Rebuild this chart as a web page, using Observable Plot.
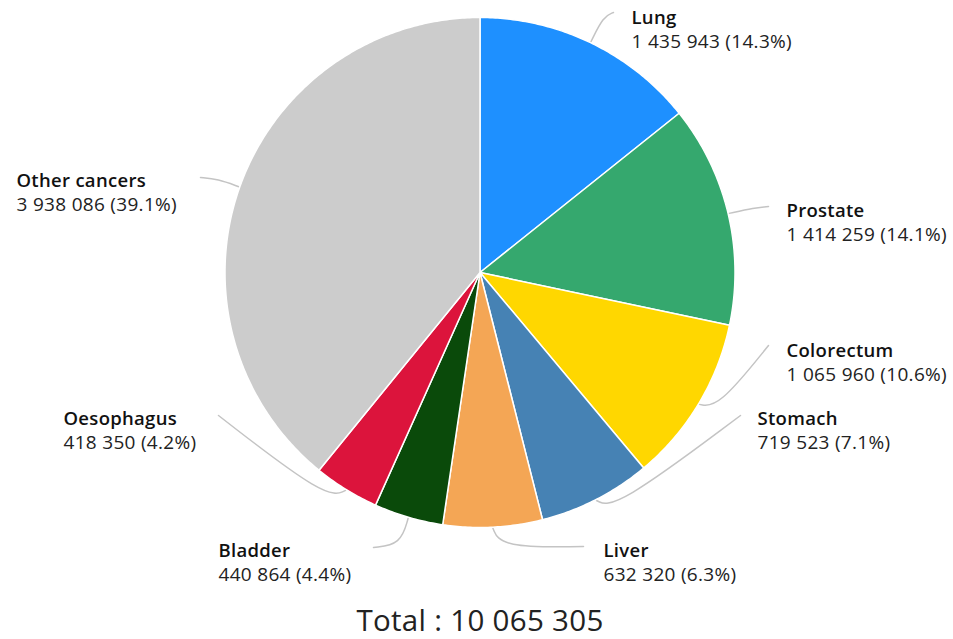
<!DOCTYPE html>
<html>
<head>
<meta charset="utf-8">
<script src="https://cdn.jsdelivr.net/npm/d3@7"></script>
<script src="https://cdn.jsdelivr.net/npm/@observablehq/plot@0.6"></script>
<style>
  html, body { margin: 0; padding: 0; background: #fff; }
  #chart svg { display: block; }
  #chart svg text { letter-spacing: 0.3px; }
</style>
</head>
<body>
<div id="chart"></div>
<script>
// ---- data ----
const names = ["Lung", "Prostate", "Colorectum", "Stomach", "Liver", "Bladder", "Oesophagus", "Other cancers"];
const values = [1435943, 1414259, 1065960, 719523, 632320, 440864, 418350, 3938086];
const totalLabel = "Total";

// ---- style ----
const colors = ["#1E90FF", "#35A86E", "#FFD700", "#4682B4", "#F4A655", "#0A4A0A", "#DC143C", "#CCCCCC"];

// ---- layout (pixels) ----
const W = 953, H = 639;
const center = [479.5, 272];
const radius = 255;
// label anchor: [x, baseline of name line]
const labelPos = [[631, 23.6], [786, 216.6], [786, 356.6], [757, 424.6], [603, 556.6], [218, 556.6], [63, 424.6], [16, 186.6]];
// connector: [elbow, end]
const connectorPts = [
  [[603, 14], [613, 12]],
  [[755, 207], [768, 206]],
  [[715, 413], [768, 345]],
  [[605, 518], [740, 415]],
  [[494, 549], [583, 546]],
  [[402, 546], [373, 547]],
  [[334, 507], [218, 415]],
  [[217, 178], [200, 177]]
];

const total = d3.sum(values);
const fmt = v => d3.format(",")(v).replace(/,/g, " ");
const arcs = d3.pie().sort(null).startAngle(0).endAngle(2 * Math.PI)(values);
const pt = (a, r) => [center[0] + r * Math.sin(a), center[1] - r * Math.cos(a)];

// slice polygons
const slicePts = [];
arcs.forEach((a, i) => {
  const n = Math.max(4, Math.ceil((a.endAngle - a.startAngle) / 0.01));
  slicePts.push({name: names[i], x: center[0], y: center[1]});
  for (let k = 0; k <= n; k++) {
    const t = a.startAngle + (a.endAngle - a.startAngle) * k / n;
    const [x, y] = pt(t, radius);
    slicePts.push({name: names[i], x, y});
  }
  slicePts.push({name: names[i], x: center[0], y: center[1]});
});

// connectors
const connPts = [];
arcs.forEach((a, i) => {
  const mid = (a.startAngle + a.endAngle) / 2;
  const [sx, sy] = pt(mid, radius + 1);
  const [e, f] = connectorPts[i];
  [[sx, sy], e, f].forEach(([x, y]) => connPts.push({name: names[i], x, y}));
});

const labels = names.map((n, i) => ({
  name: n,
  value: `${fmt(values[i])} (${(values[i] / total * 100).toFixed(1)}%)`,
  x: labelPos[i][0],
  y: labelPos[i][1]
}));

const chart = Plot.plot({
  width: W,
  height: H,
  margin: 0,
  x: {domain: [0, W], range: [0, W], axis: null},
  y: {domain: [0, H], range: [0, H], axis: null},
  color: {domain: names, range: colors},
  style: {fontFamily: "'Open Sans', 'Noto Sans', sans-serif", background: "#fff"},
  marks: [
    Plot.line(connPts, {x: "x", y: "y", z: "name", stroke: "#c4c4c4", strokeWidth: 1.5, curve: "bundle"}),
    Plot.line(slicePts, {x: "x", y: "y", z: "name", fill: "name", stroke: "#fff", strokeWidth: 1.5, strokeLinejoin: "round"}),
    Plot.text(labels, {x: "x", y: "y", text: "name", textAnchor: "start", lineAnchor: "bottom", fontSize: 18.5, fontWeight: 650, fill: "#111"}),
    Plot.text(labels, {x: "x", y: "y", dy: 23.6, text: "value", textAnchor: "start", lineAnchor: "bottom", fontSize: 19, fill: "#222"}),
    Plot.text([`${totalLabel} : ${fmt(total)}`], {x: [center[0]], y: [630], text: d => d, textAnchor: "middle", lineAnchor: "bottom", fontSize: 29.5, fill: "#222"})
  ]
});
document.getElementById("chart").appendChild(chart);
</script>
</body>
</html>
